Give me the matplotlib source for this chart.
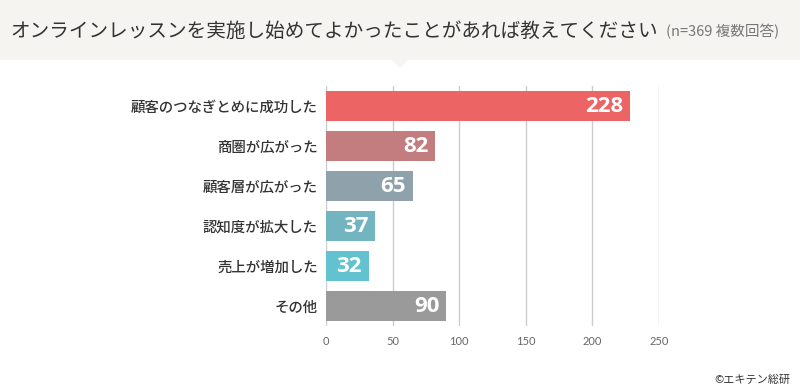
import matplotlib
matplotlib.use("Agg")
import matplotlib.pyplot as plt
from matplotlib.patches import Rectangle, Polygon

categories = ["顧客のつなぎとめに成功した", "商圏が広がった", "顧客層が広がった",
              "認知度が拡大した", "売上が増加した", "その他"]
values = [228, 82, 65, 37, 32, 90]
colors = ["#ec6464", "#c47d7f", "#8fa1ab", "#72b5c1", "#62c2d0", "#9a9a9a"]
xticks = [0, 50, 100, 150, 200, 250]

title = "オンラインレッスンを実施し始めてよかったことがあれば教えてください"
subtitle = "(n=369 複数回答)"
credit = "©エキテン総研"

JP = ["Noto Sans CJK JP", "DejaVu Sans"]

W, H = 800, 388
fig = plt.figure(figsize=(W / 100, H / 100), dpi=100)
fig.patch.set_facecolor("white")

# header band
fig.patches.append(Rectangle((0, 1 - 60 / H), 1, 60 / H, transform=fig.transFigure,
                             facecolor="#f5f4f1", edgecolor="none", zorder=0))
fig.patches.append(Polygon([(392 / W, 1 - 60 / H), (408 / W, 1 - 60 / H), (400 / W, 1 - 68 / H)],
                           closed=True, transform=fig.transFigure,
                           facecolor="#f5f4f1", edgecolor="none", zorder=0))

t = fig.text(10 / W, 1 - 31 / H, title, family=JP, fontsize=14.1, color="#333333",
             va="center", ha="left")
fig.canvas.draw()
bb = t.get_window_extent()
fig.text((bb.x1 + 8) / W, 1 - 32 / H, subtitle, family=JP, fontsize=10.5, color="#777777",
         va="center", ha="left")

# axes: x 0 -> 326px, 250 -> 659px ; y from 86px to 326px
left, right = 326, 659
top, bottom = 86, 326
ax = fig.add_axes([left / W, 1 - bottom / H, (right - left) / W, (bottom - top) / H])
ax.set_xlim(0, 250)
ax.set_ylim(len(categories) - 0.5, -0.5)

ypos = list(range(len(categories)))
ax.barh(ypos, values, height=0.75, color=colors, zorder=3)

for y, v in zip(ypos, values):
    ax.text(v - 5, y, str(v), ha="right", va="center", color="white",
            fontsize=16, fontweight="bold", family=["Open Sans", "DejaVu Sans"], zorder=4)

ax.set_xticks(xticks)
ax.set_xticklabels([str(x) for x in xticks], family=["Lato", "DejaVu Sans"],
                   fontsize=8, color="#666666")
ax.tick_params(axis="x", length=0, pad=7)
ax.set_yticks(ypos)
ax.set_yticklabels(categories, family=JP, fontsize=10.4, color="#333333",
                   fontweight="medium")
ax.tick_params(axis="y", length=0, pad=6)
ax.grid(axis="x", color="#cccccc", linewidth=1, zorder=0)
for s in ax.spines.values():
    s.set_visible(False)
ax.set_facecolor("none")

fig.text(790 / W, 1 - 380 / H, credit, family=JP, fontsize=8, color="#333333",
         ha="right", va="center")

fig.savefig("out.png", dpi=100)
